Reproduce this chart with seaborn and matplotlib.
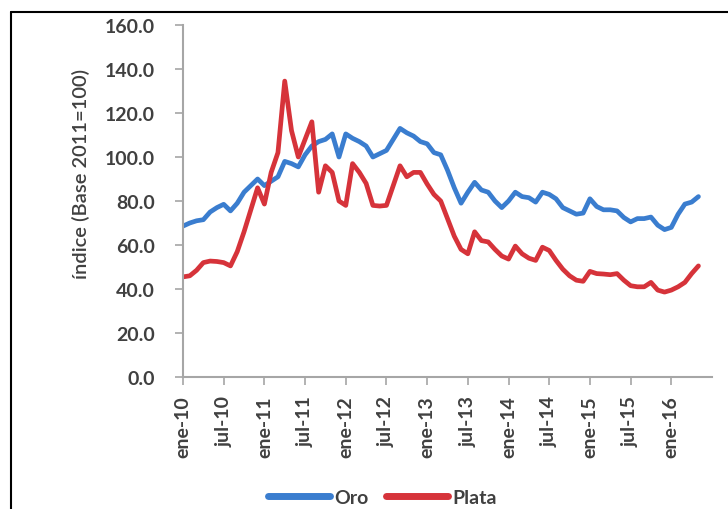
import seaborn as sns
import matplotlib.pyplot as plt
import matplotlib.lines as mlines
import pandas as pd
import numpy as np

# monthly index values, ene-10 .. may-16 (Base 2011=100)
oro = [68.6, 70, 71, 71.5, 75, 77, 78.5, 75.5, 79, 84, 87, 90,
       87, 89, 91, 98, 97, 95.5, 101, 105, 107, 108, 110.5, 100,
       110.5, 108.5, 107, 105, 100, 101.5, 103, 108, 113, 111, 109.5, 107,
       106, 102, 101, 94, 86, 79, 84, 88.5, 85, 84, 80, 77,
       80, 84, 82, 81.5, 79.5, 84, 83, 81, 77, 75.5, 74, 74.5,
       81, 77.5, 76, 76, 75.5, 72.5, 70.5, 72, 72, 72.7, 69, 67,
       68, 74, 78.6, 79.5, 82]
plata = [45.5, 46, 48.5, 52, 52.7, 52.5, 52, 50.5, 57, 66, 76, 86,
         78.6, 93, 102, 134.5, 112, 100, 108, 116, 84, 96, 93, 80,
         78, 97, 93, 88, 78, 77.7, 78, 87, 96, 91, 93, 93,
         87.7, 83, 80, 72, 64, 58, 56, 66, 62, 61.4, 58, 55,
         53.6, 59.5, 56, 54, 53, 59, 57.5, 53, 49, 46, 44, 43.5,
         48, 47, 46.8, 46.5, 47, 44, 41.5, 41, 41, 43, 39.5, 38.6,
         39.5, 41, 43, 47, 50.5]

tick_pos = list(range(0, 73, 6))
tick_labels = ["ene-10", "jul-10", "ene-11", "jul-11", "ene-12", "jul-12",
               "ene-13", "jul-13", "ene-14", "jul-14", "ene-15", "jul-15",
               "ene-16"]

series = ["Oro", "Plata"]
colors = {"Oro": "#3a7dcf", "Plata": "#d6333a"}

df = pd.DataFrame({
    "mes": list(range(len(oro))) * 2,
    "valor": oro + plata,
    "serie": ["Oro"] * len(oro) + ["Plata"] * len(plata),
})

sns.set_style("white")
plt.rcParams["font.family"] = ["Lato", "DejaVu Sans"]

fig = plt.figure(figsize=(7.28, 5.1), dpi=100)
ax = fig.add_axes([183 / 728, 1 - 378 / 510, (712 - 183) / 728, (378 - 26) / 510])

sns.lineplot(data=df, x="mes", y="valor", hue="serie", palette=colors,
             linewidth=3.4, legend=False, ax=ax)

ax.set_xlim(0, 78)
ax.set_ylim(0, 160)
ax.set_yticks(np.arange(0, 161, 20))
ax.set_yticklabels([f"{v:.1f}" for v in np.arange(0, 161, 20)],
                   fontsize=14, fontweight="bold", color="#404040")
ax.set_xticks(tick_pos)
ax.set_xticklabels(tick_labels, rotation=90, fontsize=14,
                   fontweight="bold", color="#404040")
ax.set_xlabel("")
ax.set_ylabel("índice (Base 2011=100)", fontsize=14.5, fontweight="semibold",
              color="#404040")
ax.yaxis.set_label_coords(-0.176, 0.58)

for s in ["top", "right"]:
    ax.spines[s].set_visible(False)
for s in ["left", "bottom"]:
    ax.spines[s].set_color("#a6a6a6")
    ax.spines[s].set_linewidth(1.5)
ax.tick_params(axis="y", direction="out", length=6, width=1.2,
               color="#a6a6a6", pad=14, left=True)
ax.tick_params(axis="x", direction="out", length=6, width=1.2,
               color="#a6a6a6", pad=7, bottom=True)

# legend at the bottom
handles = [mlines.Line2D([], [], color=colors[s], linewidth=5) for s in series]
fig.legend(handles, series, loc="center", bbox_to_anchor=(0.525, 0.022),
           ncol=2, frameon=False, handlelength=3.2, columnspacing=0.9,
           handletextpad=0.2, borderpad=0.1,
           prop={"size": 14, "weight": "bold"}, labelcolor="#404040")

# outer frame (left and top edges visible)
fig.add_artist(mlines.Line2D([11 / 728, 11 / 728], [0, 1 - 13 / 510],
                             transform=fig.transFigure, color="black", lw=1.5))
fig.add_artist(mlines.Line2D([11 / 728, 1], [1 - 13 / 510, 1 - 13 / 510],
                             transform=fig.transFigure, color="black", lw=1.5))

fig.savefig("out.png", dpi=100)
